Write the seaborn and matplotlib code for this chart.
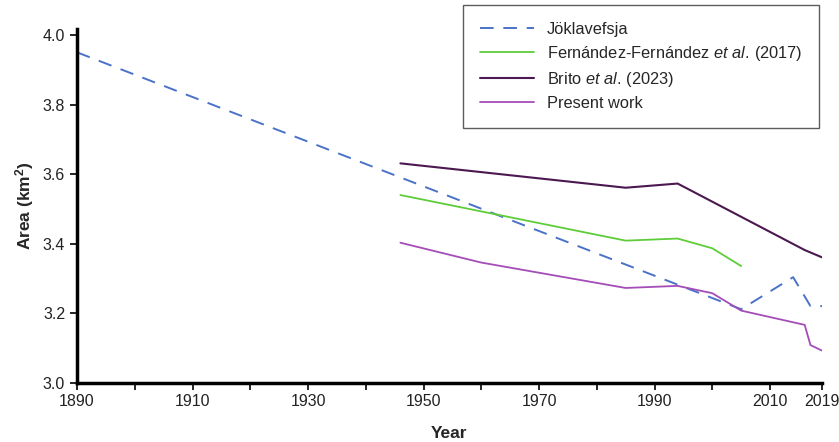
import matplotlib
matplotlib.use("Agg")
import matplotlib.pyplot as plt
import seaborn as sns
import pandas as pd

# Jöklavefsja glacier area (km2)
jok_years = [1890, 2005, 2014, 2017, 2019]
jok_area = [3.95, 3.212, 3.304, 3.221, 3.221]

ff_years = [1946, 1985, 1994, 2000, 2005]
ff_area = [3.540, 3.409, 3.415, 3.387, 3.336]

brito_years = [1946, 1985, 1994, 2016, 2019]
brito_area = [3.631, 3.561, 3.573, 3.382, 3.361]

present_years = [1946, 1960, 1985, 1994, 2000, 2005, 2016, 2017, 2019]
present_area = [3.403, 3.346, 3.273, 3.279, 3.258, 3.208, 3.167, 3.109, 3.093]

tick_years = [1890, 1910, 1930, 1950, 1970, 1990, 2010, 2019]
minor_years = [1900, 1920, 1940, 1960, 1980, 2000]

sns.set_style("ticks")
plt.rcParams["font.family"] = ["Liberation Sans", "DejaVu Sans"]
plt.rcParams["mathtext.fontset"] = "custom"
plt.rcParams["mathtext.rm"] = "Liberation Sans"
plt.rcParams["mathtext.it"] = "Liberation Sans:italic"
plt.rcParams["mathtext.bf"] = "Liberation Sans:bold"

fig = plt.figure(figsize=(8.39, 4.42), dpi=100)
ax = fig.add_axes([77 / 839, 1 - 383 / 442, (822 - 77) / 839, (383 - 29) / 442])

series = [
    ("Jöklavefsja", jok_years, jok_area, "#4a72c8", (0, (7, 5)), 1.4),
    ("Fernández-Fernández $\\mathit{et\\ al.}\\,$(2017)", ff_years, ff_area, "#5fcc3a", "-", 1.3),
    ("Brito $\\mathit{et\\ al.}\\,$(2023)", brito_years, brito_area, "#4b1850", "-", 1.5),
    ("Present work", present_years, present_area, "#a44cb8", "-", 1.3),
]
for name, xs, ys, col, ls, lw in series:
    df = pd.DataFrame({"Year": xs, "Area": ys})
    sns.lineplot(data=df, x="Year", y="Area", ax=ax, color=col, linestyle=ls,
                 linewidth=lw, label=name, legend=False)

ax.set_xlim(1890, 2019)
ax.set_ylim(3.0, 4.017)
ax.set_xticks(tick_years)
ax.set_xticks(minor_years, minor=True)
ax.set_yticks([3.0, 3.2, 3.4, 3.6, 3.8, 4.0])
ax.set_yticklabels(["3.0", "3.2", "3.4", "3.6", "3.8", "4.0"])
ax.tick_params(axis="both", which="both", direction="out", length=5, width=1.2,
               labelsize=11.5, color="black", labelcolor="#222222")
ax.tick_params(axis="x", pad=3)
for s in ["top", "right"]:
    ax.spines[s].set_visible(False)
for s in ["left", "bottom"]:
    ax.spines[s].set_linewidth(2.5)
    ax.spines[s].set_color("black")

ax.set_xlabel("Year", fontsize=12.5, fontweight="bold", labelpad=12)
ax.set_ylabel("Area (km$^\\mathbf{2}$)", fontsize=12.5, fontweight="bold", labelpad=5)

handles, labels = ax.get_legend_handles_labels()
leg = fig.legend(handles, labels, loc="upper left",
                 bbox_to_anchor=(463 / 839, 1 - 5 / 442), fontsize=11.8,
                 frameon=True, fancybox=False, edgecolor="#333333",
                 handlelength=3.3, borderpad=1.05, labelspacing=0.42,
                 borderaxespad=0, handletextpad=0.75)
leg.get_frame().set_linewidth(1.0)

fig.savefig("out.png", dpi=100, facecolor="white")
